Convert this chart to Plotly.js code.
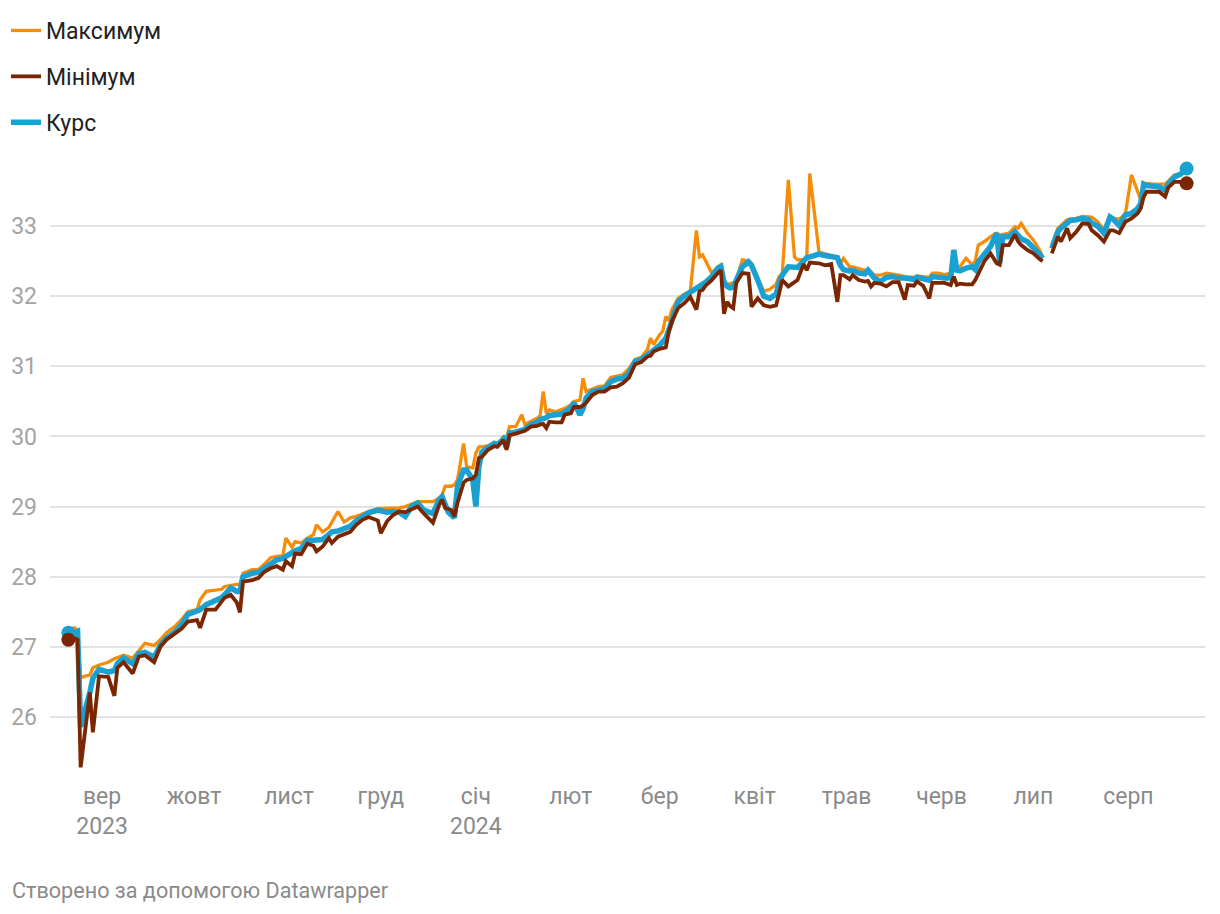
<!DOCTYPE html>
<html>
<head>
<meta charset="utf-8">
<script src="https://cdn.plot.ly/plotly-3.0.1.min.js"></script>
<style>
  html, body { margin: 0; padding: 0; background: #fff; }
  #chart { width: 1220px; height: 914px; }
</style>
</head>
<body>
<div id="chart"></div>
<script>
const dates = [
  "2023-08-21","2023-08-23","2023-08-24","2023-08-25","2023-08-28","2023-08-29","2023-08-31",
  "2023-09-03","2023-09-05","2023-09-06","2023-09-08","2023-09-11","2023-09-13","2023-09-15","2023-09-18","2023-09-20","2023-09-22","2023-09-25","2023-09-27","2023-09-29",
  "2023-10-02","2023-10-03","2023-10-05","2023-10-08","2023-10-10","2023-10-11","2023-10-13","2023-10-15","2023-10-16","2023-10-17","2023-10-20","2023-10-22","2023-10-24","2023-10-26","2023-10-28","2023-10-30","2023-10-31",
  "2023-11-02","2023-11-03","2023-11-05","2023-11-07","2023-11-09","2023-11-10","2023-11-12","2023-11-14","2023-11-15","2023-11-17","2023-11-19","2023-11-21","2023-11-23","2023-11-25","2023-11-27","2023-11-30",
  "2023-12-01","2023-12-03","2023-12-05","2023-12-07","2023-12-09","2023-12-11","2023-12-13","2023-12-15","2023-12-18","2023-12-20","2023-12-21","2023-12-22","2023-12-23","2023-12-24","2023-12-25","2023-12-26","2023-12-28","2023-12-29","2023-12-31",
  "2024-01-01","2024-01-02","2024-01-03","2024-01-05","2024-01-07","2024-01-08","2024-01-10","2024-01-11","2024-01-12","2024-01-14","2024-01-16","2024-01-17","2024-01-19","2024-01-21","2024-01-22","2024-01-23","2024-01-24","2024-01-25","2024-01-27","2024-01-29","2024-01-30",
  "2024-02-01","2024-02-02","2024-02-04","2024-02-05","2024-02-06","2024-02-08","2024-02-10","2024-02-12","2024-02-14","2024-02-16","2024-02-18","2024-02-20","2024-02-22","2024-02-24","2024-02-26","2024-02-27","2024-02-28",
  "2024-03-01","2024-03-02","2024-03-03","2024-03-04","2024-03-05","2024-03-07","2024-03-09","2024-03-11","2024-03-13","2024-03-14","2024-03-15","2024-03-16","2024-03-18","2024-03-20","2024-03-21","2024-03-22","2024-03-23","2024-03-24","2024-03-25","2024-03-26","2024-03-27","2024-03-28","2024-03-30","2024-03-31",
  "2024-04-02","2024-04-04","2024-04-06","2024-04-08","2024-04-09","2024-04-10","2024-04-12","2024-04-13","2024-04-14","2024-04-15","2024-04-17","2024-04-18","2024-04-19","2024-04-22","2024-04-24","2024-04-26","2024-04-28","2024-04-29","2024-04-30",
  "2024-05-02","2024-05-03","2024-05-05","2024-05-07","2024-05-08","2024-05-09","2024-05-10","2024-05-12","2024-05-14","2024-05-16","2024-05-18","2024-05-20","2024-05-21","2024-05-23","2024-05-24","2024-05-26","2024-05-28","2024-05-29","2024-05-31",
  "2024-06-02","2024-06-04","2024-06-05","2024-06-06","2024-06-07","2024-06-09","2024-06-11","2024-06-12","2024-06-13","2024-06-15","2024-06-17","2024-06-19","2024-06-20","2024-06-21","2024-06-23","2024-06-25","2024-06-26","2024-06-27","2024-06-29",
  "2024-07-01","2024-07-03","2024-07-04","2024-07-06","2024-07-07","2024-07-09","2024-07-10","2024-07-12","2024-07-13","2024-07-15","2024-07-17","2024-07-19","2024-07-20","2024-07-22","2024-07-24","2024-07-26","2024-07-27","2024-07-29","2024-07-31",
  "2024-08-02","2024-08-04","2024-08-05","2024-08-06","2024-08-07","2024-08-09","2024-08-11","2024-08-13","2024-08-14","2024-08-16","2024-08-18","2024-08-20"
];

// Максимум
const maxRate = [
  27.25,27.27,27.23,26.56,26.6,26.7,26.74,
  26.78,26.83,26.85,26.88,26.84,26.95,27.05,27.02,27.1,27.2,27.3,27.39,27.5,
  27.53,27.67,27.79,27.81,27.82,27.86,27.88,27.89,27.89,28.05,28.1,28.1,28.18,28.27,28.29,28.3,28.55,
  28.42,28.5,28.48,28.55,28.6,28.74,28.64,28.7,28.77,28.93,28.78,28.84,28.86,28.9,28.93,28.97,
  28.97,28.97,28.97,28.98,29.0,29.04,29.07,29.07,29.07,29.12,29.17,29.29,29.29,29.29,29.31,29.38,29.9,29.57,29.55,
  29.76,29.85,29.85,29.87,29.9,29.88,30.0,29.98,30.14,30.14,30.31,30.17,30.21,30.26,30.3,30.64,30.33,30.38,30.35,30.38,30.4,
  30.45,30.5,30.52,30.83,30.64,30.68,30.71,30.72,30.84,30.86,30.88,30.97,31.1,31.13,31.24,31.4,31.31,
  31.45,31.5,31.71,31.65,31.81,31.97,32.03,32.07,32.94,32.56,32.59,32.5,32.33,32.42,32.45,32.2,32.17,32.18,32.19,32.23,32.37,32.52,32.5,32.47,
  32.25,32.07,32.1,32.17,32.28,32.3,33.66,33.11,32.56,32.52,32.52,32.55,33.75,32.63,32.6,32.58,32.56,32.46,32.54,
  32.42,32.42,32.4,32.37,32.38,32.35,32.3,32.3,32.33,32.32,32.3,32.28,32.28,32.27,32.29,32.28,32.27,32.33,32.33,
  32.31,32.33,32.66,32.38,32.42,32.54,32.45,32.5,32.73,32.78,32.85,32.9,32.87,32.88,32.9,32.99,32.97,33.04,32.9,
  32.8,32.66,32.56,null,32.74,32.97,33.01,33.09,33.1,33.11,33.14,33.14,33.13,33.06,32.95,33.13,33.11,33.1,33.17,
  33.73,33.5,33.38,33.6,33.61,33.6,33.6,33.6,33.64,33.73,33.75,33.77
];

// Мінімум
const minRate = [
  27.1,27.12,27.1,25.28,26.35,25.78,26.58,
  26.57,26.3,26.7,26.78,26.62,26.86,26.88,26.78,27.0,27.1,27.2,27.26,27.36,
  27.38,27.27,27.53,27.53,27.63,27.7,27.74,27.63,27.49,27.93,27.95,27.98,28.07,28.12,28.15,28.1,28.22,
  28.15,28.33,28.32,28.47,28.44,28.36,28.43,28.55,28.48,28.57,28.6,28.64,28.74,28.81,28.85,28.8,
  28.62,28.79,28.88,28.93,28.92,28.96,29.0,28.9,28.77,29.02,29.1,28.98,28.96,28.95,28.86,29.05,29.34,29.38,29.4,
  29.45,29.69,29.71,29.81,29.86,29.85,29.95,29.81,30.02,30.04,30.07,30.08,30.14,30.15,30.17,30.18,30.12,30.21,30.2,30.2,30.31,
  30.33,30.42,30.42,30.44,30.48,30.59,30.64,30.64,30.7,30.71,30.76,30.84,31.03,31.06,31.14,31.15,31.21,
  31.25,31.26,31.27,31.5,31.64,31.83,31.9,31.99,31.81,32.07,32.09,32.15,32.23,32.33,32.37,31.75,31.92,31.86,31.83,32.19,32.26,32.33,32.32,31.85,
  31.97,31.87,31.85,31.87,32.04,32.23,32.14,32.17,32.19,32.23,32.46,32.37,32.48,32.47,32.44,32.46,31.92,32.3,32.3,
  32.24,32.3,32.23,32.21,32.22,32.14,32.19,32.18,32.14,32.2,32.2,31.95,32.16,32.15,32.21,32.15,31.97,32.19,32.19,
  32.19,32.16,32.28,32.16,32.18,32.17,32.17,32.23,32.33,32.5,32.61,32.47,32.45,32.73,32.73,32.88,32.78,32.73,32.66,
  32.61,32.53,32.5,null,32.61,32.85,32.78,32.97,32.83,32.92,33.04,33.03,32.94,32.87,32.78,32.94,32.94,32.9,33.06,
  33.11,33.18,33.25,33.42,33.49,33.49,33.49,33.42,33.55,33.63,33.63,33.61
];

// Курс
const rate = [
  27.2,27.2,27.22,25.86,26.35,26.55,26.68,
  26.64,26.66,26.76,26.84,26.76,26.9,26.92,26.85,27.02,27.12,27.22,27.32,27.46,
  27.51,27.53,27.6,27.65,27.7,27.74,27.84,27.79,27.79,28.0,28.05,28.06,28.12,28.17,28.24,28.26,28.29,
  28.34,28.37,28.4,28.52,28.52,28.52,28.53,28.6,28.64,28.65,28.68,28.72,28.8,28.86,28.91,28.95,
  28.94,28.92,28.93,28.92,28.86,29.0,29.05,28.95,28.9,29.1,29.14,29.0,28.92,28.88,28.84,29.29,29.52,29.52,29.38,
  29.0,29.57,29.78,29.83,29.9,29.88,29.96,29.84,30.05,30.06,30.08,30.1,30.17,30.2,30.24,30.25,30.27,30.3,30.31,30.32,30.35,
  30.41,30.48,30.31,30.4,30.55,30.64,30.67,30.68,30.78,30.82,30.83,30.9,31.07,31.1,31.16,31.19,31.23,
  31.3,31.35,31.4,31.52,31.66,31.92,32.0,32.06,32.1,32.14,32.16,32.2,32.28,32.4,32.42,32.2,32.14,32.12,32.13,32.22,32.3,32.42,32.49,32.44,
  32.23,32.0,31.97,32.03,32.19,32.3,32.42,32.42,32.42,32.41,32.5,32.55,32.56,32.6,32.58,32.56,32.55,32.44,32.38,
  32.36,32.37,32.33,32.32,32.37,32.3,32.26,32.21,32.27,32.28,32.26,32.26,32.25,32.24,32.27,32.25,32.23,32.28,32.26,
  32.26,32.26,32.66,32.37,32.36,32.4,32.42,32.38,32.49,32.6,32.71,32.9,32.47,32.85,32.85,32.92,32.88,32.82,32.78,
  32.7,32.6,32.54,null,32.68,32.92,32.97,33.04,33.08,33.09,33.11,33.09,33.04,33.0,32.9,33.13,33.1,33.01,33.16,
  33.18,33.25,33.32,33.6,33.58,33.56,33.56,33.51,33.6,33.7,33.74,33.82
];

const yTicks = [26, 27, 28, 29, 30, 31, 32, 33];
const monthTicks = [
  "2023-09-01","2023-10-01","2023-11-01","2023-12-01","2024-01-01","2024-02-01",
  "2024-03-01","2024-04-01","2024-05-01","2024-06-01","2024-07-01","2024-08-01"
];
const monthLabels = [
  "вер<br>2023","жовт","лист","груд","січ<br>2024","лют",
  "бер","квіт","трав","черв","лип","серп"
];

const ORANGE = "#f68d0a";
const BROWN = "#7a2600";
const BLUE = "#1ba1d1";
const FONT = "Roboto, 'Liberation Sans', sans-serif";

const last = dates.length - 1;

function ends(values) {
  return { x: [dates[0], dates[last]], y: [values[0], values[last]] };
}

const traces = [
  {
    x: dates, y: maxRate, name: "Максимум", type: "scatter", mode: "lines",
    line: { color: ORANGE, width: 3.3 }, legendgroup: "max", legendrank: 1
  },
  {
    x: dates, y: rate, name: "Курс", type: "scatter", mode: "lines",
    line: { color: BLUE, width: 5.5 }, legendgroup: "rate", legendrank: 3
  },
  {
    x: dates, y: minRate, name: "Мінімум", type: "scatter", mode: "lines",
    line: { color: BROWN, width: 3.8 }, legendgroup: "min", legendrank: 2
  },
  Object.assign(ends(rate), {
    type: "scatter", mode: "markers", showlegend: false,
    marker: { color: BLUE, size: 14 }
  }),
  Object.assign(ends(minRate), {
    type: "scatter", mode: "markers", showlegend: false,
    marker: { color: BROWN, size: 14 }
  })
];

const layout = {
  width: 1220,
  height: 914,
  margin: { l: 50, r: 15, t: 156, b: 134, autoexpand: false },
  paper_bgcolor: "#fff",
  plot_bgcolor: "#fff",
  font: { family: FONT, size: 23, color: "#333" },
  showlegend: true,
  legend: {
    xref: "container", yref: "container",
    x: 6 / 1220, y: 1 - 9 / 914, xanchor: "left", yanchor: "top",
    orientation: "v",
    tracegroupgap: 13,
    font: { family: FONT, size: 23, color: "#222" },
    bgcolor: "rgba(0,0,0,0)"
  },
  xaxis: {
    type: "date",
    range: ["2023-08-15", "2024-08-26"],
    tickvals: monthTicks,
    ticktext: monthLabels,
    showgrid: false,
    zeroline: false,
    showline: false,
    ticks: "",
    tickfont: { family: FONT, size: 23, color: "#8a8a8a" }
  },
  yaxis: {
    range: [25.1, 34.0],
    tickvals: yTicks,
    ticktext: yTicks.map(String),
    showgrid: true,
    gridcolor: "#e2e2e2",
    gridwidth: 1.5,
    zeroline: false,
    showline: false,
    ticks: "",
    ticklabelstandoff: 12,
    tickfont: { family: FONT, size: 23, color: "#a3a3a3" }
  },
  annotations: [
    {
      text: "Створено за допомогою Datawrapper",
      xref: "paper", yref: "paper",
      x: -40 / 1155, y: -110 / 624,
      xanchor: "left", yanchor: "middle",
      showarrow: false,
      font: { family: FONT, size: 21.6, color: "#8a8a8a" }
    }
  ]
};

Plotly.newPlot("chart", traces, layout, { displayModeBar: false, responsive: false });
</script>
</body>
</html>
